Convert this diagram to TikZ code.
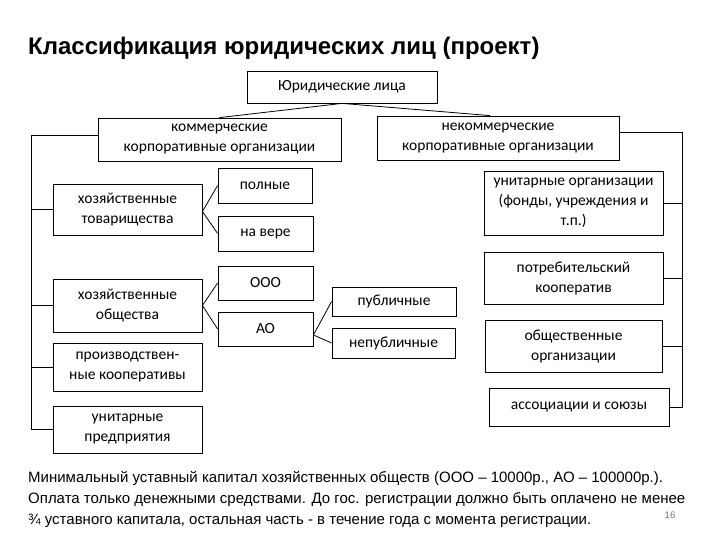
\documentclass[tikz,border=0pt]{standalone}
\usepackage{fontspec}
\setmainfont{Carlito}
\newfontfamily\arialfont{Liberation Sans}
\begin{document}
\begin{tikzpicture}[x=1pt,y=-1pt,
  bx/.style={draw=black, line width=0.8pt, inner sep=0pt, align=center, font=\fontsize{15.5}{20}\selectfont},
  ln/.style={draw=black, line width=0.8pt},
  note/.style={anchor=base west, inner sep=0pt, font=\arialfont\fontsize{15.0}{22}\selectfont}]
\useasboundingbox[fill=white] (0,0) rectangle (720,540);
\node[anchor=base west, inner sep=0pt, font=\arialfont\bfseries\fontsize{24}{28}\selectfont] (title) at (28,55) {Классификация юридических лиц (проект)};
% boxes
\node[bx, minimum width=190pt, minimum height=32pt] (jur) at (342,87) {Юридические лица};
\node[bx, minimum width=243pt, minimum height=43pt] (kom) at (219.5,139.5) {коммерческие\\корпоративные организации};
\node[bx, minimum width=242pt, minimum height=44pt] (nekom) at (498,138) {некоммерческие\\корпоративные организации};
\node[bx, minimum width=149pt, minimum height=51pt] (htov) at (127.5,209.5) {хозяйственные\\товарищества};
\node[bx, minimum width=94pt, minimum height=35pt] (poln) at (265,185.5) {полные};
\node[bx, minimum width=95pt, minimum height=35pt] (vere) at (265.5,233.5) {на вере};
\node[bx, minimum width=149pt, minimum height=53pt] (hob) at (127.5,305.5) {хозяйственные\\общества};
\node[bx, minimum width=95pt, minimum height=34pt] (ooo) at (265.5,283) {ООО};
\node[bx, minimum width=95pt, minimum height=34pt] (ao) at (265.5,329) {АО};
\node[bx, minimum width=124pt, minimum height=29pt] (pub) at (394,301.5) {публичные};
\node[bx, minimum width=123pt, minimum height=30pt] (nepub) at (393.5,343) {непубличные};
\node[bx, minimum width=149pt, minimum height=48pt] (proiz) at (127.5,367) {производствен-\\ные кооперативы};
\node[bx, minimum width=149pt, minimum height=47pt] (unpr) at (127.5,429.5) {унитарные\\предприятия};
\node[bx, minimum width=179pt, minimum height=64pt] (unorg) at (573.5,203) {унитарные организации\\(фонды, учреждения и\\т.п.)};
\node[bx, minimum width=179pt, minimum height=52pt] (potr) at (573.5,278) {потребительский\\кооператив};
\node[bx, minimum width=177pt, minimum height=52pt] (obsh) at (573.5,346) {общественные\\организации};
\node[bx, minimum width=180pt, minimum height=38pt] (assoc) at (579,407) {ассоциации и союзы};
% connectors
\coordinate (lx) at (31,0);
\coordinate (rx) at (682,0);
\draw[ln] (jur.south) -- (kom.north);
\draw[ln] (jur.south) -- ([xshift=-8pt]nekom.north);
\draw[ln] ([yshift=4pt]kom.west) -- ([yshift=4pt]kom.west -| lx) |- (unpr.west);
\draw[ln] (htov.west) -- (htov.west -| lx);
\draw[ln] (hob.west) -- (hob.west -| lx);
\draw[ln] (proiz.west) -- (proiz.west -| lx);
\draw[ln] ([yshift=6pt]nekom.east) -- ([yshift=6pt]nekom.east -| rx) |- (assoc.east);
\draw[ln] (unorg.east) -- (unorg.east -| rx);
\draw[ln] (potr.east) -- (potr.east -| rx);
\draw[ln] (obsh.east) -- (obsh.east -| rx);
\draw[ln] ([yshift=-2pt]htov.east) -- (poln.west);
\draw[ln] ([yshift=-2pt]htov.east) -- (vere.west);
\draw[ln] (hob.east) -- (ooo.west);
\draw[ln] (hob.east) -- (ao.west);
\draw[ln] ([yshift=-6pt]ao.east) -- (pub.west);
\draw[ln] ([yshift=-6pt]ao.east) -- (nepub.west);
% note
\node[note] (n1) at (28,482) {Минимальный уставный капитал хозяйственных обществ (ООО – 10000р., АО – 100000р.).};
\node[note] (n2) at (28,503) {Оплата только денежными средствами. До гос. регистрации должно быть оплачено не менее};
\node[note] (n3) at (28,524) {¾ уставного капитала, остальная часть - в течение года с момента регистрации.};
\node[anchor=base, inner sep=0pt, text=black!55, font=\arialfont\fontsize{9.5}{10}\selectfont] (pg) at (670,518) {16};
\end{tikzpicture}
\end{document}
